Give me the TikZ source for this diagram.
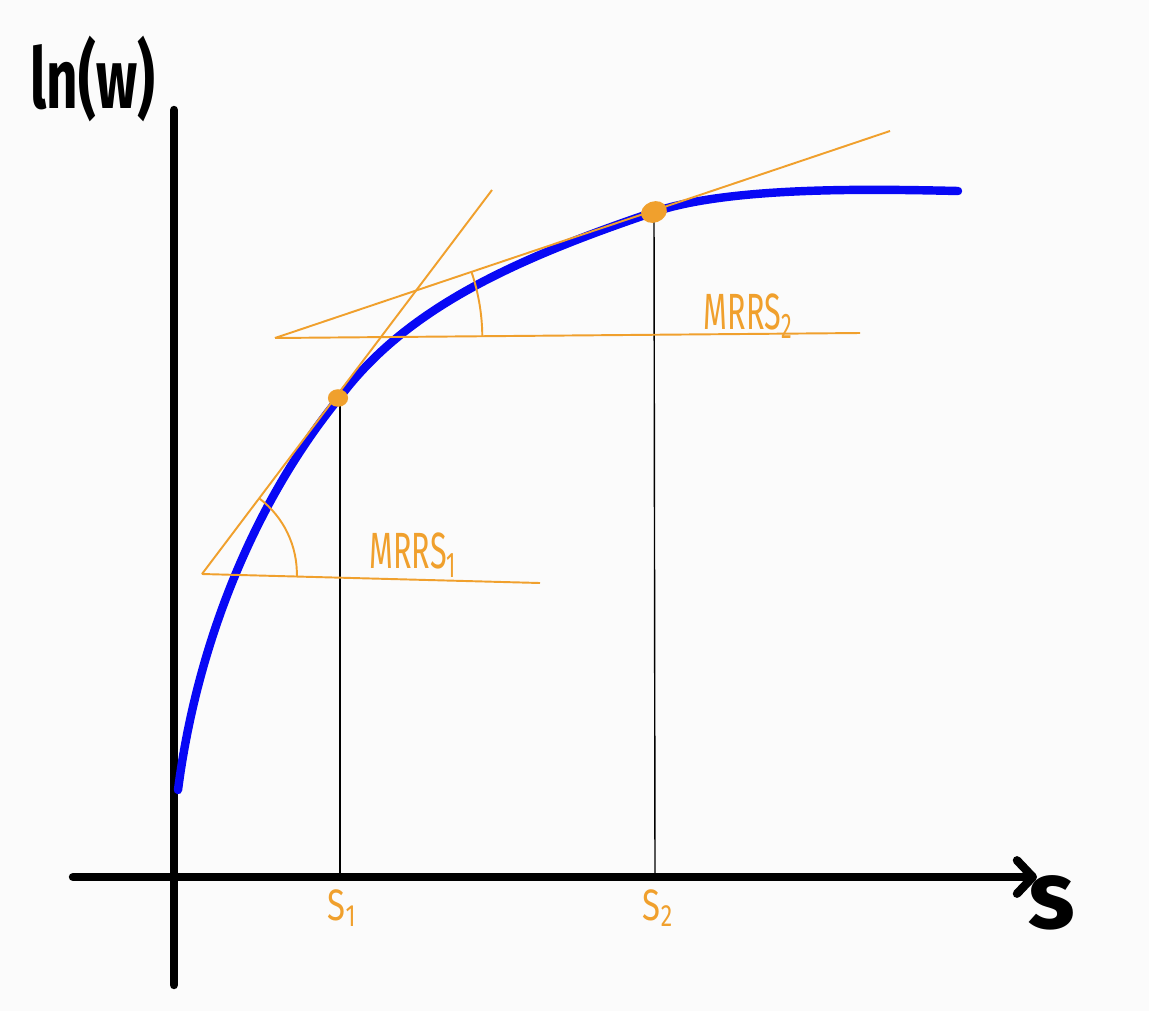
\documentclass[tikz,border=0pt]{standalone}
\usepackage{fontspec}
\setmainfont{Fira Sans}
\usepackage{graphicx}
\usetikzlibrary{arrows.meta,shapes.geometric,angles}
\definecolor{mrorange}{RGB}{240,160,45}
\definecolor{curveblue}{RGB}{8,8,245}
\definecolor{paper}{RGB}{251,251,251}
\begin{document}
\begin{tikzpicture}[x=0.02cm,y=-0.02cm,
  axisline/.style={line width=4.8pt,line cap=round,line join=round,black},
  bluecurve/.style={line width=4.8pt,curveblue,line cap=round},
  tangline/.style={line width=1.1pt,mrorange},
  dropline/.style={line width=0.8pt,black},
  dotmark/.style={ellipse,fill=mrorange,inner sep=0pt},
  lab/.style={text=mrorange,inner sep=0pt},
]
\fill[paper] (0,0) rectangle (1149,1011);
\useasboundingbox (0,0) rectangle (1149,1011);

% key points
\coordinate (yb) at (174,985);
\coordinate (yt) at (174,110);
\coordinate (xl) at (73,877);
\coordinate (xr) at (1037,877);
\coordinate (V1) at (202,574);
\coordinate (B1) at (540,583);
\coordinate (T1) at (492,190);
\coordinate (V2) at (275,338);
\coordinate (B2) at (860,333);
\coordinate (T2) at (890,131);
\coordinate (F1) at (340,877);
\coordinate (F2) at (655,877);
\coordinate (C0) at (178,790);
\coordinate (C1) at (340,397);
\coordinate (C2) at (654,212);
\coordinate (C3) at (958,191);

% drop lines
\draw[dropline] (C1) -- (F1);
\draw[dropline] (C2) -- (F2);

% axes
\draw[axisline] (yb) -- (yt);
\draw[axisline,-{Straight Barb[length=9pt,width=19pt,round]}] (xl) -- (xr);

% curve
\draw[bluecurve] (C0) .. controls (196,650) and (251,506) .. (C1)
  .. controls (406,309) and (512,260) .. (C2)
  .. controls (730,186.5) and (870,189) .. (C3);

% tangents and base lines
\draw[tangline] (V1) -- (T1);
\draw[tangline] (V1) -- (B1);
\draw[tangline] (V2) -- (T2);
\draw[tangline] (V2) -- (B2);
\pic[draw=mrorange,line width=1.1pt,angle radius=54pt] {angle=B1--V1--T1};
\pic[draw=mrorange,line width=1.1pt,angle radius=118pt] {angle=B2--V2--T2};

% points
\node[dotmark,minimum width=11.5pt,minimum height=10pt] (P1) at (338,398) {};
\node[dotmark,minimum width=15pt,minimum height=12pt,rotate=20] (P2) at (654,212) {};

% labels
\node[inner sep=0pt] (ylab) at (93,79) {\scalebox{0.65}[1]{\fontsize{48}{50}\selectfont\bfseries ln(w)}};
\node[inner sep=0pt] (xlab) at (1052,903) {\fontsize{55}{56}\selectfont\bfseries s};
\node[lab] (s1) at (342,908) {\scalebox{0.75}[1]{\fontsize{25}{26}\selectfont S\textsubscript{1}}};
\node[lab] (s2) at (658,908) {\scalebox{0.75}[1]{\fontsize{25}{26}\selectfont S\textsubscript{2}}};
\node[lab] (m1) at (413,555) {\scalebox{0.6}[1]{\fontsize{29}{30}\selectfont MRRS\textsubscript{1}}};
\node[lab] (m2) at (748,316) {\scalebox{0.6}[1]{\fontsize{29}{30}\selectfont MRRS\textsubscript{2}}};
\end{tikzpicture}
\end{document}
